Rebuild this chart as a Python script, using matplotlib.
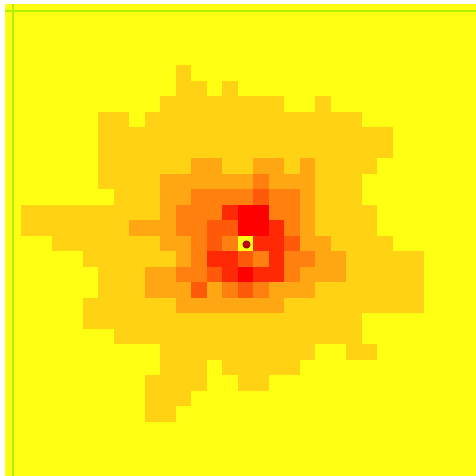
import matplotlib
matplotlib.use("Agg")
import matplotlib.pyplot as plt
from matplotlib.colors import ListedColormap
import numpy as np

# visit levels per cell, 0 = never reached, 6 = most visited
grid_rows = [
    "0000000000000000000000000000000",
    "0000000000000000000000000000000",
    "0000000000000000000000000000000",
    "0000000000000000000000000000000",
    "0000000000010000000000000000000",
    "0000000000011010000000000000000",
    "0000000000111111110010000000000",
    "0000001101111111111111100000000",
    "0000001111111111111111111000000",
    "0000001111111111111111111000000",
    "0000001111112211221211110000000",
    "0000001111222222322211100000000",
    "0000000111223333433211100000000",
    "0111111111233356633211110000000",
    "0111111122233446653211110000000",
    "0001111111223430554221111000000",
    "0000011111123554353322111110000",
    "0000001112233456553222111110000",
    "0000001112224234322211111110000",
    "0000011111122222221111111110000",
    "0000011111111111111111100000000",
    "0000000111111111111111100000000",
    "0000000000111111111100110000000",
    "0000000000111011111000000000000",
    "0000000001111001100000000000000",
    "0000000001110000000000000000000",
    "0000000001100000000000000000000",
    "0000000000000000000000000000000",
    "0000000000000000000000000000000",
    "0000000000000000000000000000000",
    "0000000000000000000000000000000",
]
start_x, start_y = 15, 15

level_colors = ["#ffff14", "#ffd314", "#ffa712", "#ff800f", "#ff5a0a", "#ff2a05", "#ff0000"]

grid = np.array([[int(c) for c in row] for row in grid_rows])

fig = plt.figure(figsize=(4.77, 4.77), dpi=100)
ax = fig.add_axes([5.13 / 477, 0.99036 - 1.008, 1.008, 1.008])

ax.imshow(grid, cmap=ListedColormap(level_colors), vmin=-0.5, vmax=6.5,
          interpolation="nearest", aspect="auto")
ax.axvline(0, color="#a8f000", lw=1.3)
ax.axhline(0, color="#a8f000", lw=1.3)
ax.plot(start_x, start_y, "o", color="#c8000a", mec="#800000", mew=0.6, ms=5)
ax.axis("off")

fig.savefig("out.png", dpi=100)
